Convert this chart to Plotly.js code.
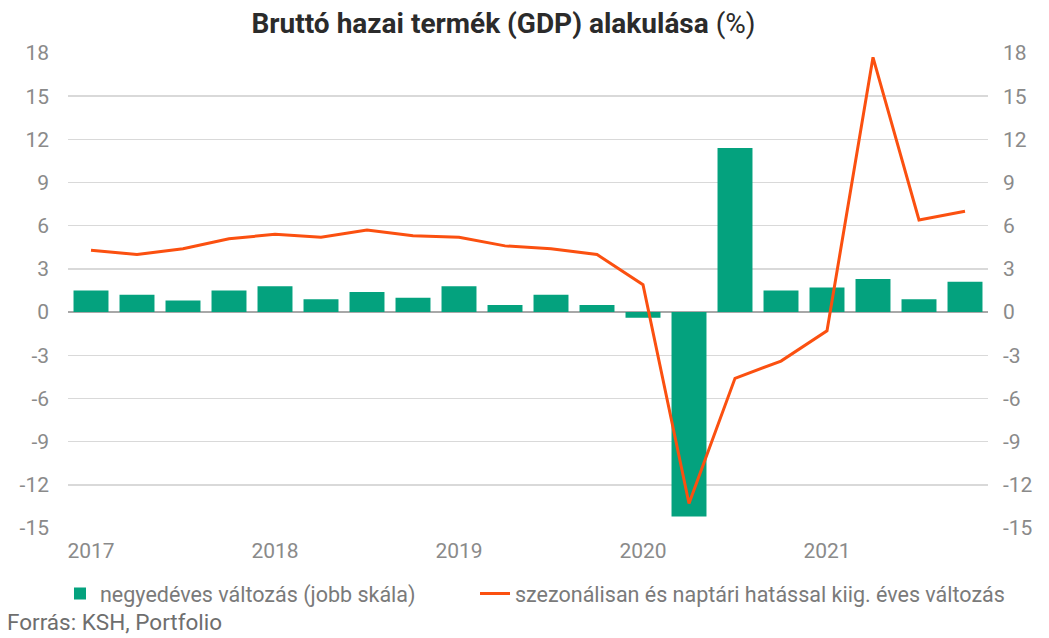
<!DOCTYPE html>
<html>
<head>
<meta charset="utf-8">
<script src="https://cdn.plot.ly/plotly-3.0.1.min.js"></script>
<style>html,body{margin:0;padding:0;background:#fff;}#chart{width:1049px;height:638px;}</style>
</head>
<body>
<div id="chart"></div>
<script>
const quarters = ["2017 I.","2017 II.","2017 III.","2017 IV.",
  "2018 I.","2018 II.","2018 III.","2018 IV.",
  "2019 I.","2019 II.","2019 III.","2019 IV.",
  "2020 I.","2020 II.","2020 III.","2020 IV.",
  "2021 I.","2021 II.","2021 III.","2021 IV."];
const quarterlyChange = [1.5,1.2,0.8,1.5, 1.8,0.9,1.4,1.0, 1.8,0.5,1.2,0.5, -0.4,-14.2,11.4,1.5, 1.7,2.3,0.9,2.1];
const annualChange = [4.3,4.0,4.4,5.1, 5.4,5.2,5.7,5.3, 5.2,4.6,4.4,4.0, 1.9,-13.3,-4.6,-3.4, -1.3,17.7,6.4,7.0];
const yearTickVals = ["2017 I.","2018 I.","2019 I.","2020 I.","2021 I."];
const yearTickText = ["2017","2018","2019","2020","2021"];
const yTicks = [-15,-12,-9,-6,-3,0,3,6,9,12,15,18];
const yTickText = ["-15","-12","-9","-6","-3","0","3","6","9","12","15","18"];

const barTrace = {
  type: 'bar', x: quarters, y: quarterlyChange, yaxis: 'y',
  name: 'negyedéves változás (jobb skála)', legend: 'legend',
  marker: {color: '#04a27e'}
};
const lineTrace = {
  type: 'scatter', mode: 'lines', x: quarters, y: annualChange, yaxis: 'y2',
  name: 'szezonálisan és naptári hatással kiig. éves változás', legend: 'legend2',
  line: {color: '#fb5010', width: 3}
};
const tickFont = {family: 'Roboto, sans-serif', size: 21, color: '#8a8a8a'};
const legendFont = {family: 'Roboto, sans-serif', size: 21.5, color: '#7a7a7a'};
const layout = {
  width: 1049, height: 638,
  margin: {l: 68, r: 61, t: 53, b: 110},
  paper_bgcolor: '#fff', plot_bgcolor: '#fff',
  title: {text: '<b>Bruttó hazai termék (GDP) alakulása</b> (%)',
    font: {family: 'Roboto, sans-serif', size: 28, color: '#2b2b2b'},
    x: 0.48, xanchor: 'center', y: 0.963, yanchor: 'middle'},
  bargap: 0.24,
  showlegend: true,
  legend: {orientation: 'h', x: -0.0087, xanchor: 'left', y: -0.095, yanchor: 'top',
    font: legendFont, bgcolor: 'rgba(0,0,0,0)'},
  legend2: {orientation: 'h', x: 0.4424, xanchor: 'left', y: -0.095, yanchor: 'top',
    font: legendFont, bgcolor: 'rgba(0,0,0,0)'},
  xaxis: {type: 'category', tickvals: yearTickVals, ticktext: yearTickText,
    tickfont: tickFont, showgrid: false, zeroline: false, showline: false,
    ticks: '', ticklabelstandoff: 8},
  yaxis: {side: 'right', range: [-15, 18], tickvals: yTicks, ticktext: yTickText, tickfont: tickFont,
    showgrid: true, gridcolor: '#d9d9d9', gridwidth: 1.5,
    zeroline: true, zerolinecolor: '#a8a8a8', zerolinewidth: 1.5,
    ticks: '', ticklabelstandoff: 14},
  yaxis2: {side: 'left', overlaying: 'y', range: [-15, 18], tickvals: yTicks, ticktext: yTickText, tickfont: tickFont,
    showgrid: false, zeroline: false, ticks: '', ticklabelstandoff: 18},
  annotations: [{text: 'Forrás: KSH, Portfolio', xref: 'paper', yref: 'paper',
    x: -0.068, xanchor: 'left', y: -0.198, yanchor: 'middle', showarrow: false,
    font: {family: 'Roboto, sans-serif', size: 22.5, color: '#6e6e6e'}}]
};
Plotly.newPlot('chart', [barTrace, lineTrace], layout, {displayModeBar: false, staticPlot: true});
</script>
</body>
</html>
